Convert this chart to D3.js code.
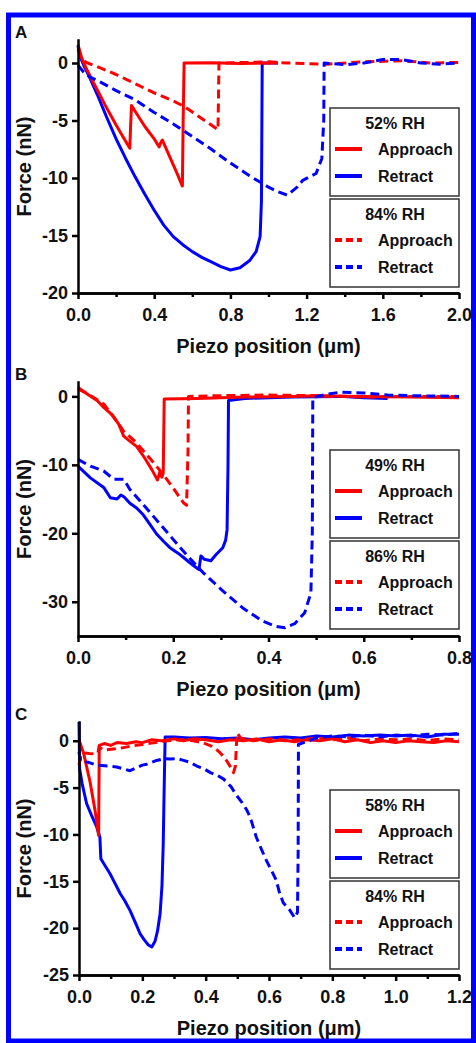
<!DOCTYPE html>
<html>
<head>
<meta charset="utf-8">
<script src="https://cdn.jsdelivr.net/npm/d3@7"></script>
<style>
  body { margin: 0; background: #fff; }
  svg text { font-family: "Liberation Sans", Arial, sans-serif; font-weight: bold; fill: #111; }
</style>
</head>
<body>
<div id="chart"></div>
<script>
// SVG size
const svgWidth = 476;
const svgHeight = 1043;

// ---- Panel A: [piezo position (um), force (nN)]
const aApproach52 = [[0,1.6],[0.02,0.4],[0.05,-0.7],[0.1,-2.3],[0.15,-3.9],[0.2,-5.4],[0.25,-6.8],[0.272,-7.4],
  [0.276,-5.5],[0.281,-3.7],[0.3,-4.2],[0.35,-5.5],[0.4,-6.6],[0.426,-7.3],[0.435,-6.9],[0.443,-6.7],
  [0.48,-8.1],[0.52,-9.6],[0.548,-10.7],[0.552,-5],[0.557,0],[0.7,0.02],[0.85,-0.05],[1.05,0]];
const aRetract52 = [[0,1.5],[0.01,0.6],[0.03,-0.2],[0.06,-1.2],[0.1,-2.7],[0.15,-4.7],[0.2,-6.6],[0.25,-8.3],
  [0.3,-9.9],[0.35,-11.4],[0.4,-12.8],[0.45,-14.1],[0.5,-15.1],[0.55,-15.8],[0.6,-16.4],[0.65,-16.9],
  [0.7,-17.3],[0.75,-17.7],[0.8,-18.0],[0.85,-17.8],[0.9,-17.2],[0.935,-16.4],[0.956,-15.1],[0.963,-12],
  [0.967,0],[1.05,0]];
const aApproach84 = [[0,1.2],[0.02,0.3],[0.05,0],[0.1,-0.3],[0.2,-1.0],[0.3,-1.8],[0.4,-2.6],[0.5,-3.3],
  [0.56,-3.8],[0.63,-4.6],[0.7,-5.4],[0.735,-5.8],[0.74,0],[0.9,0.05],[1.0,0.1],[1.1,0],[1.3,-0.1],
  [1.5,0.1],[1.7,0.2],[1.85,0],[2.0,0.05]];
const aRetract84 = [[0,-0.2],[0.03,-0.8],[0.06,-1.2],[0.1,-1.5],[0.2,-2.4],[0.3,-3.2],[0.4,-4.3],[0.5,-5.3],
  [0.6,-6.4],[0.7,-7.5],[0.8,-8.7],[0.9,-9.8],[1.0,-10.8],[1.05,-11.2],[1.1,-11.5],[1.15,-10.8],
  [1.18,-10.2],[1.25,-9.6],[1.28,-8.3],[1.29,-5],[1.292,0],[1.4,-0.15],[1.5,0],[1.6,0.3],[1.7,0.3],
  [1.8,0],[1.9,-0.1],[2.0,0]];
const aXTicks = [0, 0.4, 0.8, 1.2, 1.6, 2.0];
const aXMinor = [0.2, 0.6, 1.0, 1.4, 1.8];
const aYTicks = [0, -5, -10, -15, -20];

// ---- Panel B
const bApproach49 = [[0,1.3],[0.02,0.3],[0.04,-0.6],[0.054,-1.6],[0.07,-2.6],[0.085,-4.0],[0.096,-5.8],
  [0.11,-6.6],[0.123,-7.3],[0.14,-9.0],[0.155,-10.7],[0.167,-12.2],[0.172,-11.0],[0.176,-11.8],
  [0.179,-11.2],[0.181,-0.4],[0.25,-0.3],[0.35,-0.1],[0.45,0],[0.5,0.1],[0.6,0],[0.7,-0.1],[0.8,-0.2]];
const bRetract49 = [[0,-10.2],[0.026,-11.9],[0.054,-13.3],[0.068,-14.8],[0.082,-15.0],[0.09,-14.4],
  [0.097,-14.7],[0.109,-15.6],[0.123,-16.3],[0.137,-17.3],[0.15,-18.6],[0.165,-20.1],[0.18,-21.2],
  [0.193,-22.1],[0.21,-22.9],[0.221,-23.5],[0.235,-24.3],[0.248,-25.0],[0.254,-25.3],[0.258,-23.3],
  [0.265,-23.8],[0.279,-24.0],[0.29,-23.1],[0.304,-22.1],[0.31,-21.0],[0.313,-19.5],[0.315,-10],
  [0.316,-0.6],[0.35,-0.3],[0.45,-0.1],[0.55,0],[0.6,-0.2],[0.65,-0.3]];
const bApproach86 = [[0,1.1],[0.02,0.4],[0.054,-1.1],[0.075,-3.0],[0.096,-5.1],[0.12,-6.6],[0.138,-8.0],
  [0.16,-9.8],[0.179,-11.4],[0.2,-13.4],[0.221,-15.5],[0.228,-15.9],[0.231,-8],[0.232,0],[0.3,0.1],
  [0.4,0.2],[0.5,0.1],[0.6,-0.1],[0.7,0],[0.8,0]];
const bRetract86 = [[0,-9.2],[0.026,-10.2],[0.054,-10.9],[0.075,-12.1],[0.096,-12.1],[0.109,-13.6],
  [0.137,-15.8],[0.179,-19.2],[0.221,-22.6],[0.262,-25.7],[0.304,-28.4],[0.346,-30.9],[0.387,-32.8],
  [0.415,-33.6],[0.434,-33.8],[0.455,-33.2],[0.476,-31.6],[0.489,-28.7],[0.492,-20],[0.493,-0.2],
  [0.52,0.3],[0.55,0.6],[0.6,0.5],[0.65,0.2],[0.7,0.1],[0.8,0]];
const bXTicks = [0, 0.2, 0.4, 0.6, 0.8];
const bXMinor = [0.1, 0.3, 0.5, 0.7];
const bYTicks = [0, -10, -20, -30];

// ---- Panel C
const cApproach58 = [[0,0.1],[0.015,-1.4],[0.035,-4.4],[0.05,-7.3],[0.062,-10.1],[0.064,-0.5],[0.08,-0.3],
  [0.1,-0.5],[0.12,-0.2],[0.15,-0.3],[0.18,-0.1],[0.2,-0.2],[0.23,0.1],[0.26,0.0],[0.3,0.2],[0.33,0.0],
  [0.36,0.2],[0.4,0.1],[0.44,-0.1],[0.48,0.1],[0.52,0.0],[0.56,0.2],[0.6,-0.1],[0.64,0.1],[0.68,-0.1],
  [0.72,0.1],[0.76,0.0],[0.8,0.2],[0.84,-0.1],[0.88,0.1],[0.92,-0.2],[0.96,0.0],[1.0,-0.2],[1.04,0.0],
  [1.08,-0.1],[1.12,-0.2],[1.16,0.0],[1.2,-0.1]];
const cRetract58 = [[0,2.0],[0.002,-3.0],[0.01,-4.6],[0.024,-6.7],[0.04,-8.0],[0.056,-9.2],[0.066,-10.3],
  [0.069,-12.6],[0.08,-13.2],[0.098,-14.2],[0.115,-15.3],[0.13,-16.3],[0.145,-17.1],[0.161,-18.1],
  [0.178,-19.4],[0.193,-20.6],[0.205,-21.2],[0.219,-21.8],[0.23,-22.0],[0.24,-21.4],[0.248,-20.3],
  [0.256,-18.5],[0.262,-15.5],[0.266,-11],[0.269,-5],[0.272,0.4],[0.3,0.4],[0.35,0.3],[0.4,0.35],
  [0.45,0.2],[0.5,0.3],[0.55,0.1],[0.6,0.3],[0.65,0.4],[0.7,0.3],[0.75,0.5],[0.8,0.4],[0.85,0.6],
  [0.9,0.5],[0.95,0.6],[1.0,0.5],[1.05,0.6],[1.1,0.4],[1.15,0.7],[1.2,0.7]];
const cApproach84 = [[0,-2.6],[0.006,-1.6],[0.02,-1.3],[0.04,-1.4],[0.06,-1.3],[0.063,-0.7],[0.08,-1.0],
  [0.1,-0.9],[0.13,-0.8],[0.16,-0.6],[0.2,-0.4],[0.24,-0.2],[0.28,0.0],[0.32,0.1],[0.36,0.0],[0.39,-0.2],
  [0.42,-0.6],[0.44,-1.1],[0.46,-1.8],[0.475,-2.6],[0.488,-3.4],[0.494,-2.7],[0.497,-0.5],[0.5,0.8],
  [0.51,0.3],[0.55,0.0],[0.6,0.2],[0.65,0.0],[0.7,0.1],[0.75,0.3],[0.8,0.1],[0.85,0.3],[0.9,0.0],
  [0.95,0.2],[1.0,0.1],[1.05,0.2],[1.1,0.0],[1.15,0.2],[1.2,0.1]];
const cRetract84 = [[0,-1.2],[0.005,-2.2],[0.03,-2.3],[0.055,-2.6],[0.09,-2.7],[0.119,-2.8],[0.14,-3.0],
  [0.161,-3.2],[0.18,-2.9],[0.2,-2.6],[0.214,-2.5],[0.245,-2.1],[0.27,-1.9],[0.288,-1.95],[0.31,-1.9],
  [0.33,-2.1],[0.35,-2.3],[0.372,-2.7],[0.395,-3.0],[0.415,-3.4],[0.437,-3.7],[0.457,-4.1],[0.48,-4.9],
  [0.499,-5.9],[0.515,-6.6],[0.53,-7.4],[0.541,-8.2],[0.56,-10.3],[0.575,-11.5],[0.592,-12.8],
  [0.61,-14.0],[0.623,-14.9],[0.633,-16.2],[0.645,-17.3],[0.666,-18.1],[0.681,-18.9],[0.69,-18.3],
  [0.692,-12],[0.693,-0.4],[0.75,0.3],[0.8,0.5],[0.85,0.4],[0.9,0.6],[0.95,0.4],[1.0,0.6],[1.05,0.5],
  [1.1,0.7],[1.15,0.6],[1.2,0.8]];
const cXTicks = [0, 0.2, 0.4, 0.6, 0.8, 1.0, 1.2];
const cXMinor = [0.1, 0.3, 0.5, 0.7, 0.9, 1.1];
const cYTicks = [0, -5, -10, -15, -20, -25];

// colours
const red = "#ff0000";
const blue = "#0000ff";

// panel layout (pixel boxes of each plot area)
const panels = [
  { letter: "A", top: 40, bottom: 293, left: 78, right: 459, xMax: 2.0, yMin: -20, yMax: 2,
    xTicks: aXTicks, xMinor: aXMinor, yTicks: aYTicks, rh: ["52% RH", "84% RH"],
    series: [[aRetract52, blue, false], [aApproach52, red, false], [aApproach84, red, true], [aRetract84, blue, true]] },
  { letter: "B", top: 382, bottom: 636, left: 78, right: 459, xMax: 0.8, yMin: -35, yMax: 2.1,
    xTicks: bXTicks, xMinor: bXMinor, yTicks: bYTicks, rh: ["49% RH", "86% RH"],
    series: [[bRetract49, blue, false], [bApproach49, red, false], [bApproach86, red, true], [bRetract86, blue, true]] },
  { letter: "C", top: 722, bottom: 975, left: 79, right: 459, xMax: 1.2, yMin: -25, yMax: 2,
    xTicks: cXTicks, xMinor: cXMinor, yTicks: cYTicks, rh: ["58% RH", "84% RH"],
    series: [[cRetract58, blue, false], [cApproach58, red, false], [cApproach84, red, true], [cRetract84, blue, true]] }
];

var svg = d3.select("#chart")
  .append("svg")
  .attr("width", svgWidth)
  .attr("height", svgHeight);

// blue frame round the whole figure
svg.append("rect")
  .attr("x", 8.5).attr("y", 15)
  .attr("width", 465).attr("height", 1026)
  .attr("fill", "none")
  .attr("stroke", blue)
  .attr("stroke-width", 5);

function styleAxis(ax) {
  ax.attr("font-family", null).attr("font-size", null);
  ax.selectAll("path, line").attr("stroke", "#000").attr("stroke-width", 2.5);
  ax.selectAll("text").style("font-size", "18px").attr("fill", "#111");
}

function drawPanel(p) {
  var x = d3.scaleLinear().domain([0, p.xMax]).range([p.left, p.right]);
  var y = d3.scaleLinear().domain([p.yMin, p.yMax]).range([p.bottom, p.top]);
  var g = svg.append("g");

  // force curves
  var line = d3.line().x(d => x(d[0])).y(d => y(d[1]));
  p.series.forEach(function(s) {
    g.append("path")
      .datum(s[0])
      .attr("d", line)
      .attr("fill", "none")
      .attr("stroke", s[1])
      .attr("stroke-width", 3)
      .attr("stroke-linejoin", "round")
      .attr("stroke-dasharray", s[2] ? "9,5" : null);
  });

  // minor x ticks
  var xMinorAxis = g.append("g")
    .attr("transform", `translate(0, ${p.bottom})`)
    .call(d3.axisBottom(x).tickValues(p.xMinor).tickFormat("").tickSize(4).tickSizeOuter(0));
  styleAxis(xMinorAxis);

  // x axis
  var xAxis = g.append("g")
    .attr("transform", `translate(0, ${p.bottom})`)
    .call(d3.axisBottom(x).tickValues(p.xTicks).tickFormat(d3.format(".1f"))
      .tickSize(6).tickSizeOuter(0).tickPadding(9));
  styleAxis(xAxis);

  // y axis
  var yAxis = g.append("g")
    .attr("transform", `translate(${p.left}, 0)`)
    .call(d3.axisLeft(y).tickValues(p.yTicks).tickFormat(d => d.toString())
      .tickSize(6).tickSizeOuter(0).tickPadding(4));
  styleAxis(yAxis);
  yAxis.select(".domain").attr("stroke-linecap", "square");

  // axis titles
  g.append("text")
    .attr("x", (p.left + p.right) / 2)
    .attr("y", p.bottom + 60)
    .attr("text-anchor", "middle")
    .style("font-size", "20px")
    .text("Piezo position (\u03bcm)");

  g.append("text")
    .attr("transform", `translate(31, ${(p.top + p.bottom) / 2}) rotate(-90)`)
    .attr("text-anchor", "middle")
    .style("font-size", "20px")
    .text("Force (nN)");

  // panel letter
  g.append("text")
    .attr("x", 15)
    .attr("y", p.top - 2)
    .style("font-size", "17px")
    .text(p.letter);

  // legend: two boxes, solid for lower RH, dashed for higher RH
  var lx = p.right - 129;
  p.rh.forEach(function(label, i) {
    var by = p.top + 68 + i * 91;
    g.append("rect")
      .attr("x", lx).attr("y", by)
      .attr("width", 129).attr("height", 88)
      .attr("fill", "#fff")
      .attr("stroke", "#333")
      .attr("stroke-width", 1.5);
    g.append("text")
      .attr("x", lx + 65)
      .attr("y", by + 21)
      .attr("text-anchor", "middle")
      .style("font-size", "16px")
      .text(label);
    [["Approach", red, 41], ["Retract", blue, 68]].forEach(function(row) {
      g.append("line")
        .attr("x1", lx + 5).attr("x2", lx + 32)
        .attr("y1", by + row[2]).attr("y2", by + row[2])
        .attr("stroke", row[1])
        .attr("stroke-width", 4)
        .attr("stroke-dasharray", i === 1 ? "7,4" : null);
      g.append("text")
        .attr("x", lx + 48)
        .attr("y", by + row[2] + 6)
        .style("font-size", "16px")
        .text(row[0]);
    });
  });
}

panels.forEach(drawPanel);
</script>
</body>
</html>
